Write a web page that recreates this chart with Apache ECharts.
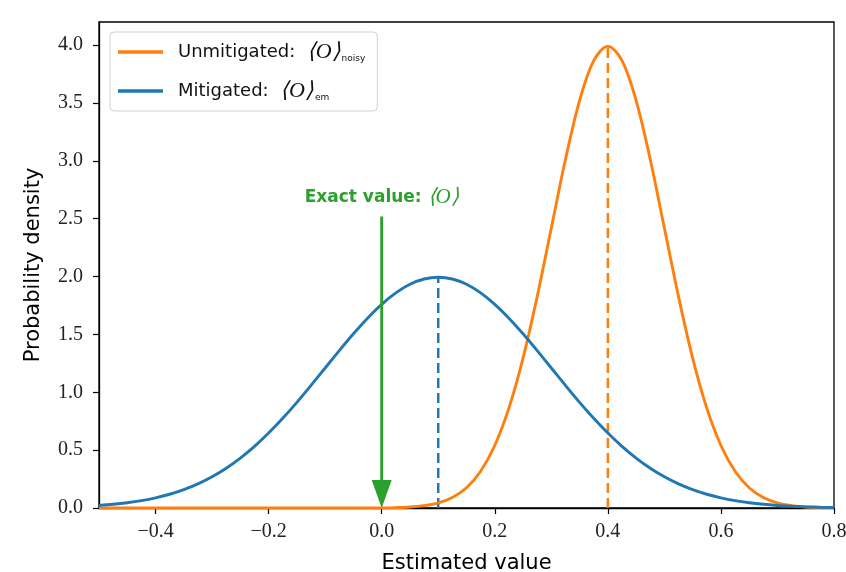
<!DOCTYPE html>
<html>
<head>
<meta charset="utf-8">
<script src="https://cdn.jsdelivr.net/npm/echarts@6/dist/echarts.min.js"></script>
<style>html,body{margin:0;padding:0;background:#fff;}#c{width:846px;height:572px;}</style>
</head>
<body>
<div id="c"></div>
<script>
const xValues = [-0.5,-0.475,-0.45,-0.425,-0.4,-0.375,-0.35,-0.325,-0.3,-0.275,-0.25,-0.225,-0.2,-0.175,-0.15,-0.125,-0.1,-0.075,-0.05,-0.025,0,0.025,0.05,0.075,0.1,0.125,0.15,0.175,0.2,0.225,0.25,0.275,0.3,0.325,0.35,0.375,0.4,0.425,0.45,0.475,0.5,0.525,0.55,0.575,0.6,0.625,0.65,0.675,0.7,0.725,0.75,0.775,0.8];
const mitigated = [0.0222,0.0320,0.0455,0.0636,0.0876,0.1188,0.1587,0.2086,0.2700,0.3439,0.4314,0.5327,0.6476,0.7751,0.9132,1.0594,1.2099,1.3602,1.5057,1.6408,1.7603,1.8593,1.9333,1.9792,1.9947,1.9792,1.9333,1.8593,1.7603,1.6408,1.5057,1.3602,1.2099,1.0594,0.9132,0.7751,0.6476,0.5327,0.4314,0.3439,0.2700,0.2086,0.1587,0.1188,0.0876,0.0636,0.0455,0.0320,0.0222,0.0151,0.0101,0.0067,0.0044];
const unmitigated = [0,0,0,0,0,0,0,0,0,0,0,0,0,0,0,0,0,0,0,0.0005,0.0013,0.0035,0.0087,0.0203,0.0443,0.0909,0.1753,0.3174,0.5399,0.8628,1.2952,1.8265,2.4197,3.0114,3.5207,3.8667,3.9894,3.8667,3.5207,3.0114,2.4197,1.8265,1.2952,0.8628,0.5399,0.3174,0.1753,0.0909,0.0443,0.0203,0.0087,0.0035,0.0013];
const unmitigatedMean = 0.4, unmitigatedPeak = 4.0;
const mitigatedMean = 0.1, mitigatedPeak = 2.0;
const exactValue = 0, arrowTop = 2.52, arrowHeadCenter = 0.12;
const xTicks = [-0.4,-0.2,0.0,0.2,0.4,0.6,0.8];
const yTicks = [0,0.5,1,1.5,2,2.5,3,3.5,4];

const ORANGE = '#ff7f0e', BLUE = '#1f77b4', GREEN = '#2ca02c';
const zip = (xs, ys) => xs.map((x, i) => [x, ys[i]]);

const chart = echarts.init(document.getElementById('c'), null, {renderer: 'canvas'});
const tickFont = {fontFamily: 'Liberation Serif', fontSize: 20, color: '#222'};
const nameFont = {fontFamily: 'DejaVu Sans', fontSize: 21, color: '#000'};
chart.setOption({
  animation: false,
  backgroundColor: '#fff',
  grid: {left: 99, right: 12, top: 22, bottom: 64, outerBoundsMode: 'none', containLabel: false,
    show: true, borderColor: '#000', borderWidth: 1.3, backgroundColor: 'transparent'},
  legend: {
    data: [{name: 'Unmitigated', icon: 'rect'}, {name: 'Mitigated', icon: 'rect'}],
    orient: 'vertical', left: 110, top: 32,
    backgroundColor: '#fff', borderColor: '#d0d0d0', borderWidth: 1, borderRadius: 4,
    padding: [9, 12, 9, 8], itemGap: 17, itemWidth: 45, itemHeight: 3.5,
    formatter: function (name) {
      return name === 'Unmitigated'
        ? '{a|Unmitigated:  }{o|⟨O⟩}{s|noisy}'
        : '{a|Mitigated:  }{o|⟨O⟩}{s|em}';
    },
    textStyle: {
      rich: {
        a: {fontFamily: 'DejaVu Sans', fontSize: 18, color: '#111', padding: [0, 0, 0, 10]},
        o: {fontFamily: 'Liberation Serif', fontStyle: 'italic', fontSize: 22, color: '#111'},
        s: {fontFamily: 'DejaVu Sans', fontSize: 9, color: '#111', padding: [13, 0, 0, 1]}
      }
    }
  },
  xAxis: {
    type: 'value', min: -0.5, max: 0.8,
    interval: 0.2,
    name: 'Estimated value', nameLocation: 'middle', nameGap: 45,
    nameTextStyle: nameFont,
    axisLine: {show: true, onZero: false, lineStyle: {color: '#000', width: 1.3}},
    axisTick: {show: true, inside: false, length: 6, lineStyle: {color: '#000', width: 1.2},
      customValues: xTicks},
    axisLabel: Object.assign({margin: 14, customValues: xTicks, hideOverlap: false,
      formatter: v => (v < 0 ? '\u2212' : '') + Math.abs(v).toFixed(1)}, tickFont),
    splitLine: {show: false}
  },
  yAxis: {
    type: 'value', min: 0, max: 4.2, interval: 0.5,
    name: 'Probability density', nameLocation: 'middle', nameGap: 55,
    nameTextStyle: nameFont,
    axisLine: {show: true, onZero: false, lineStyle: {color: '#000', width: 1.3}},
    axisTick: {show: true, inside: false, length: 6, lineStyle: {color: '#000', width: 1.2},
      customValues: yTicks},
    axisLabel: Object.assign({margin: 16, customValues: yTicks, formatter: v => v.toFixed(1)}, tickFont),
    splitLine: {show: false}
  },
  series: [
    {
      name: 'Unmitigated', type: 'line', data: zip(xValues, unmitigated),
      symbol: 'none', smooth: 0.35, lineStyle: {color: ORANGE, width: 2.9}, itemStyle: {color: ORANGE}, z: 3
    },
    {
      name: 'Mitigated', type: 'line', data: zip(xValues, mitigated),
      symbol: 'none', smooth: 0.35, lineStyle: {color: BLUE, width: 2.9}, itemStyle: {color: BLUE}, z: 4
    },
    {
      name: 'unmitigatedMeanLine', type: 'line', data: [[unmitigatedMean, 0], [unmitigatedMean, unmitigatedPeak]],
      symbol: 'none', lineStyle: {color: ORANGE, width: 2.5, type: [10, 5]}, z: 2
    },
    {
      name: 'mitigatedMeanLine', type: 'line', data: [[mitigatedMean, 0], [mitigatedMean, mitigatedPeak]],
      symbol: 'none', lineStyle: {color: BLUE, width: 2.5, type: [10, 5]}, z: 2
    },
    {
      name: 'exactArrow', type: 'line', data: [[exactValue, arrowTop], [exactValue, arrowHeadCenter + 0.05]],
      symbol: 'none', lineStyle: {color: GREEN, width: 2.9}, z: 5
    },
    {
      name: 'exactLabel', type: 'scatter', data: [[exactValue, arrowTop]],
      symbolSize: 0, z: 6, silent: true, itemStyle: {opacity: 1, color: GREEN},
      label: {
        show: true, position: 'top', distance: 8,
        formatter: '{b|Exact value: }{o|⟨O⟩}',
        rich: {
          b: {fontFamily: 'DejaVu Sans', fontWeight: 'bold', fontSize: 17, color: GREEN},
          o: {fontFamily: 'Liberation Serif', fontStyle: 'italic', fontSize: 21, color: GREEN}
        }
      }
    },
    {
      name: 'exactArrowHead', type: 'scatter', data: [[exactValue, arrowHeadCenter]],
      symbol: 'triangle', symbolRotate: 180, symbolSize: [20, 28],
      itemStyle: {color: GREEN, opacity: 1}, z: 6, silent: true
    }
  ]
});
</script>
</body>
</html>
